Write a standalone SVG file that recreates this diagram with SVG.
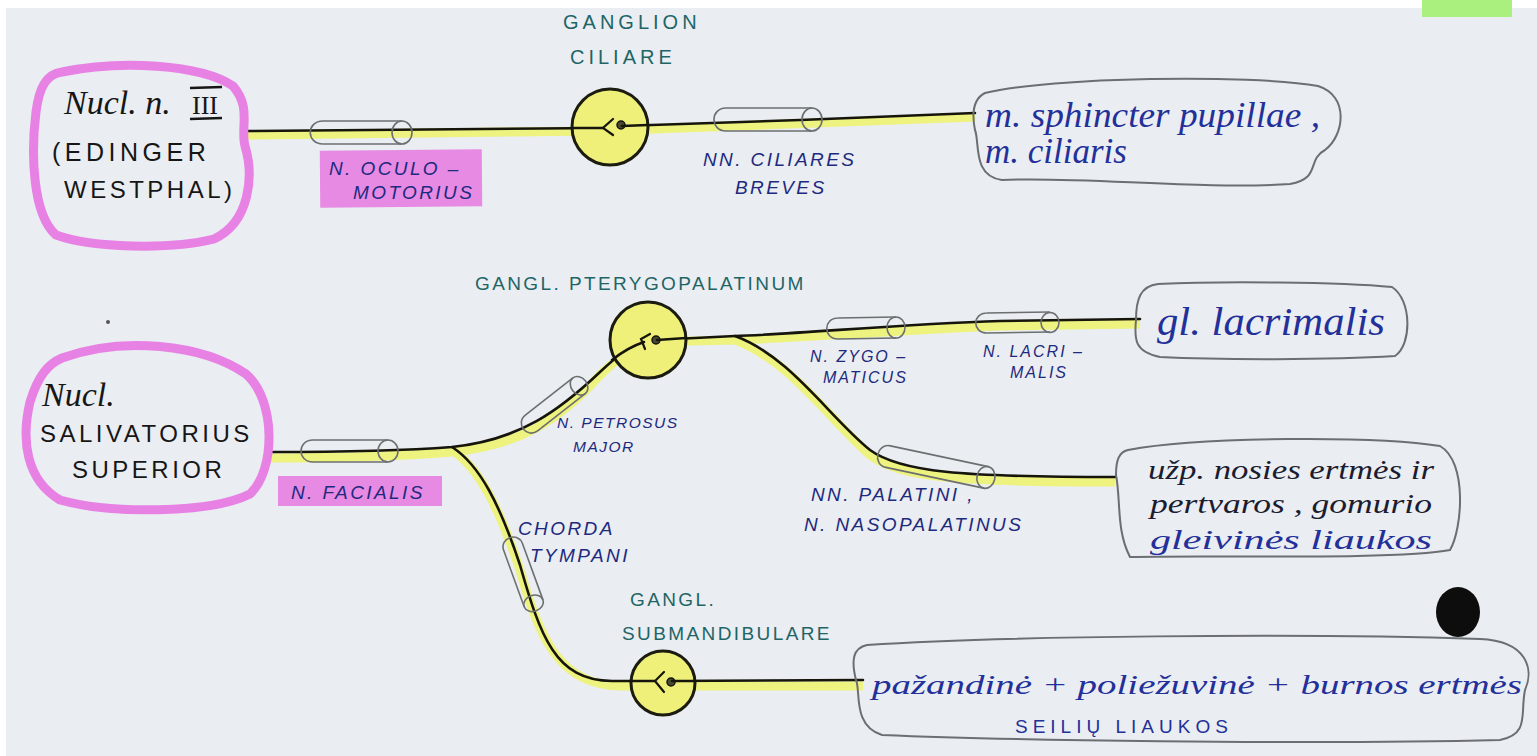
<svg xmlns="http://www.w3.org/2000/svg" width="1537" height="756" viewBox="0 0 1537 756">
  <style>
    .nucleus { fill: none; stroke: #e782e4; stroke-width: 9; stroke-linejoin: round; }
    .target { fill: none; stroke: #6b6e72; stroke-width: 2; }
    .ganglion { fill: #eef07a; stroke: #1b1b10; stroke-width: 3; }
    .nerve { fill: none; stroke: #15150c; stroke-width: 2.6; stroke-linecap: round; }
    .hl { fill: none; stroke: #eef27e; stroke-width: 9; stroke-linecap: butt; }
    .sheath { fill: none; stroke: #6c6f70; stroke-width: 1.6; }
    .tag { fill: #e78ae3; }
    .nuc-t { font-family: "Liberation Sans", sans-serif; font-size: 24px; fill: #161616; letter-spacing: 3.5px; }
    .nuc-c { font-family: "Liberation Serif", serif; font-style: italic; font-size: 34px; fill: #161616; }
    .lbl { font-family: "Liberation Sans", sans-serif; font-style: italic; font-size: 19px; fill: #1d2a7e; letter-spacing: 2.4px; }
    .gl { font-family: "Liberation Sans", sans-serif; font-size: 19px; fill: #1e6566; letter-spacing: 2.4px; }
    .hand { font-family: "Liberation Serif", serif; font-style: italic; font-size: 35px; fill: #23309a; }
    .hand-s { font-family: "Liberation Serif", serif; font-style: italic; font-size: 28px; fill: #23309a; }
    .hand-k { font-family: "Liberation Serif", serif; font-style: italic; font-size: 28px; fill: #1c1c30; }
    .syn { fill: none; stroke: #15150c; stroke-width: 2.2; stroke-linecap: round; }
  </style>

  <!-- paper -->
  <rect x="0" y="0" width="1537" height="756" fill="#eaedf1"/>
  <rect x="0" y="0" width="1537" height="8" fill="#ffffff"/>
  <rect x="0" y="0" width="6" height="756" fill="#ffffff"/>
  <rect x="1422" y="0" width="90" height="17" fill="#a9f07e"/>
  <ellipse cx="1458" cy="612" rx="22" ry="25" fill="#0d0d0d"/>
  <circle cx="108" cy="322" r="2" fill="#555"/>

  <!-- connectors: highlighter under ink -->
  <g id="connectors">
    <!-- highlighter -->
    <path class="hl" d="M248,135 L600,131 L975,117"/>
    <path class="hl" d="M270,458 C330,458 400,456 452,452 C520,445 560,420 600,375 C615,360 630,350 648,342"/>
    <path class="hl" d="M648,342 L735,340 C800,338 900,330 1000,326 L1140,324"/>
    <path class="hl" d="M735,340 C790,360 830,420 870,455 C900,478 960,482 1115,482"/>
    <path class="hl" d="M455,452 C480,470 500,510 520,570 C540,640 560,685 620,686 L863,686"/>
    <!-- ink -->
    <path class="nerve" d="M248,131 L603,128"/>
    <path class="nerve" d="M622,126 L800,120 L975,113"/>
    <path class="nerve" d="M270,452 C330,452 400,451 452,447 C520,440 560,410 600,372 C615,358 630,345 644,341"/>
    <path class="nerve" d="M655,340 L735,336 C800,334 900,324 1000,321 L1140,319"/>
    <path class="nerve" d="M735,336 C790,356 830,418 870,450 C900,472 960,477 1115,477"/>
    <path class="nerve" d="M452,447 C480,465 500,505 520,565 C540,635 555,681 612,681 L655,681"/>
    <path class="nerve" d="M666,681 L863,680"/>

    <!-- nerve sheaths -->
    <g class="sheath">
      <path d="M323,121 L402,121 M323,144 L402,144 M323,121 C306,121 306,144 323,144"/>
      <ellipse cx="402" cy="132.5" rx="10" ry="11.5"/>
      <path d="M726,108 L812,108 M726,131 L812,131 M726,108 C710,108 710,131 726,131"/>
      <ellipse cx="812" cy="119.5" rx="10" ry="11.5"/>
      <path d="M313,440 L388,440 M313,462 L388,462 M313,440 C297,440 297,462 313,462"/>
      <ellipse cx="388" cy="451" rx="10" ry="11"/>
      <path d="M838,318 L896,317 M838,339 L896,338 M838,318 C823,318 823,339 838,339"/>
      <ellipse cx="896" cy="327.5" rx="9" ry="10.5"/>
      <path d="M987,313 L1050,312 M987,333 L1050,332 M987,313 C972,313 972,333 987,333"/>
      <ellipse cx="1050" cy="322.5" rx="9" ry="10"/>
      <g transform="translate(557,403) rotate(-38)">
        <path d="M-32,-10 L28,-10 M-32,10 L28,10 M-32,-10 C-46,-10 -46,10 -32,10"/>
        <ellipse cx="28" cy="0" rx="8" ry="10"/>
      </g>
      <g transform="translate(937,467) rotate(12)">
        <path d="M-50,-11 L50,-11 M-50,11 L50,11 M-50,-11 C-64,-11 -64,11 -50,11"/>
        <ellipse cx="50" cy="0" rx="9" ry="11"/>
      </g>
      <g transform="translate(524,577) rotate(70)">
        <path d="M-32,-10 L28,-10 M-32,10 L28,10 M-32,-10 C-45,-10 -45,10 -32,10"/>
        <ellipse cx="28" cy="0" rx="8" ry="10"/>
      </g>
    </g>
  </g>

  <!-- preganglionic nuclei -->
  <g id="nucleus-edinger-westphal">
    <path class="nucleus" d="M62,72 C120,60 200,64 233,86 C252,108 240,128 245,146 C254,176 250,222 214,239 C170,250 92,248 56,235 C32,214 31,152 36,112 C39,88 46,74 62,72 Z"/>
    <text class="nuc-c" x="64" y="114">Nucl. n.</text>
    <text class="nuc-c" x="192" y="114" style="font-style:normal;font-size:26px">III</text>
    <path d="M190,88 L222,87 M190,119 L222,118" stroke="#161616" stroke-width="2.5"/>
    <text class="nuc-t" x="52" y="161" style="font-size:25px;letter-spacing:4.5px">(EDINGER</text>
    <text class="nuc-t" x="64" y="198" style="font-size:24px;letter-spacing:3.5px">WESTPHAL)</text>
  </g>

  <g id="nucleus-salivatorius">
    <path class="nucleus" d="M62,358 C122,336 202,344 246,374 C276,400 276,470 250,494 C210,514 110,514 60,500 C26,480 21,440 30,402 C38,376 48,364 62,358 Z"/>
    <text class="nuc-c" x="42" y="406">Nucl.</text>
    <text class="nuc-t" x="40" y="442">SALIVATORIUS</text>
    <text class="nuc-t" x="72" y="478">SUPERIOR</text>
  </g>

  <!-- nerve labels -->
  <g id="label-oculomotorius">
    <rect class="tag" x="320" y="150" width="162" height="57" transform="rotate(-0.5 400 178)"/>
    <text class="lbl" x="329" y="175">N. OCULO –</text>
    <text class="lbl" x="353" y="199">MOTORIUS</text>
  </g>
  <g id="label-facialis">
    <rect class="tag" x="278" y="476" width="164" height="30"/>
    <text class="lbl" x="291" y="499">N. FACIALIS</text>
  </g>
  <g id="label-ciliares">
    <text class="lbl" x="703" y="166">NN. CILIARES</text>
    <text class="lbl" x="735" y="194">BREVES</text>
  </g>
  <g id="label-petrosus">
    <text class="lbl" x="557" y="428" style="font-size:15.5px;letter-spacing:1.5px">N. PETROSUS</text>
    <text class="lbl" x="573" y="452" style="font-size:15.5px;letter-spacing:1.5px">MAJOR</text>
  </g>
  <g id="label-zygomaticus">
    <text class="lbl" x="810" y="362" style="font-size:16px;letter-spacing:2px">N. ZYGO –</text>
    <text class="lbl" x="823" y="383" style="font-size:16px;letter-spacing:2px">MATICUS</text>
  </g>
  <g id="label-lacrimalis">
    <text class="lbl" x="983" y="357" style="font-size:16px;letter-spacing:2px">N. LACRI –</text>
    <text class="lbl" x="1010" y="378" style="font-size:16px;letter-spacing:2px">MALIS</text>
  </g>
  <g id="label-palatini">
    <text class="lbl" x="811" y="501">NN. PALATINI ,</text>
    <text class="lbl" x="804" y="531">N. NASOPALATINUS</text>
  </g>
  <g id="label-chorda">
    <text class="lbl" x="518" y="535">CHORDA</text>
    <text class="lbl" x="530" y="562">TYMPANI</text>
  </g>

  <!-- ganglia -->
  <g id="ganglion-ciliare">
    <text class="gl" x="563" y="29" style="font-size:20px;letter-spacing:4px">GANGLION</text>
    <text class="gl" x="570" y="64" style="font-size:20px;letter-spacing:4px">CILIARE</text>
    <circle class="ganglion" cx="610" cy="127" r="38"/>
    <path class="nerve" d="M572,128 L603,128"/>
    <path class="syn" d="M613,119 L603,128 L613,135"/>
    <circle cx="621" cy="125" r="4" fill="#4a4a30" stroke="#15150c" stroke-width="1.5"/>
    <path class="nerve" d="M622,126 L648,125"/>
  </g>

  <g id="ganglion-pterygopalatinum">
    <text class="gl" x="475" y="290">GANGL. PTERYGOPALATINUM</text>
    <circle class="ganglion" cx="648" cy="340" r="38"/>
    <path class="nerve" d="M612,360 C622,352 632,346 644,342"/>
    <path class="syn" d="M650,334 L641,339 L645,349"/>
    <circle cx="656" cy="340" r="4" fill="#4a4a30" stroke="#15150c" stroke-width="1.5"/>
    <path class="nerve" d="M657,340 L686,338"/>
  </g>

  <g id="ganglion-submandibulare">
    <text class="gl" x="630" y="606">GANGL.</text>
    <text class="gl" x="622" y="640">SUBMANDIBULARE</text>
    <circle class="ganglion" cx="663" cy="683" r="32"/>
    <path class="nerve" d="M630,681 L655,681"/>
    <path class="syn" d="M664,672 L655,681 L664,692"/>
    <circle cx="671" cy="682" r="4" fill="#4a4a30" stroke="#15150c" stroke-width="1.5"/>
    <path class="nerve" d="M672,681 L695,681"/>
  </g>

  <!-- effector organs -->
  <g id="target-eye-muscles">
    <path class="target" d="M985,93 C1050,77 1250,74 1318,86 C1350,96 1344,136 1325,150 C1306,160 1322,178 1290,184 C1200,190 1080,176 1002,180 C972,176 980,142 975,130 C971,110 975,98 985,93 Z"/>
    <text class="hand" x="985" y="127" textLength="335" lengthAdjust="spacingAndGlyphs">m. sphincter pupillae ,</text>
    <text class="hand" x="985" y="163">m. ciliaris</text>
  </g>

  <g id="target-lacrimal">
    <path class="target" d="M1158,284 C1220,281 1340,282 1392,287 C1412,300 1412,345 1395,356 C1330,360 1220,360 1160,357 C1135,352 1134,340 1136,320 C1136,300 1140,286 1158,284 Z"/>
    <text class="hand" x="1157" y="335" style="font-size:40px" textLength="228" lengthAdjust="spacingAndGlyphs">gl. lacrimalis</text>
  </g>

  <g id="target-nasal-palatal">
    <path class="target" d="M1128,450 C1200,436 1380,436 1440,446 C1468,462 1462,530 1450,550 C1400,560 1200,555 1130,557 C1116,530 1121,500 1116,475 C1116,460 1119,452 1128,450 Z"/>
    <text class="hand-k" x="1148" y="479" textLength="286" lengthAdjust="spacingAndGlyphs">užp. nosies ertmės ir</text>
    <text class="hand-k" x="1150" y="513" textLength="282" lengthAdjust="spacingAndGlyphs">pertvaros , gomurio</text>
    <text class="hand-s" x="1150" y="549" textLength="282" lengthAdjust="spacingAndGlyphs">gleivinės liaukos</text>
  </g>

  <g id="target-salivary">
    <path class="target" d="M867,645 C1000,636 1300,633 1480,639 C1528,641 1534,670 1525,690 C1520,714 1530,734 1500,740 C1300,745 1000,740 882,735 C852,726 861,690 856,680 C851,660 853,648 867,645 Z"/>
    <text class="hand-s" x="872" y="694" textLength="650" lengthAdjust="spacingAndGlyphs">pažandinė + poliežuvinė + burnos ertmės</text>
    <text class="lbl" x="1015" y="733" style="font-size:19px;letter-spacing:5px;font-style:normal;fill:#23309a">SEILIŲ LIAUKOS</text>
  </g>
</svg>
